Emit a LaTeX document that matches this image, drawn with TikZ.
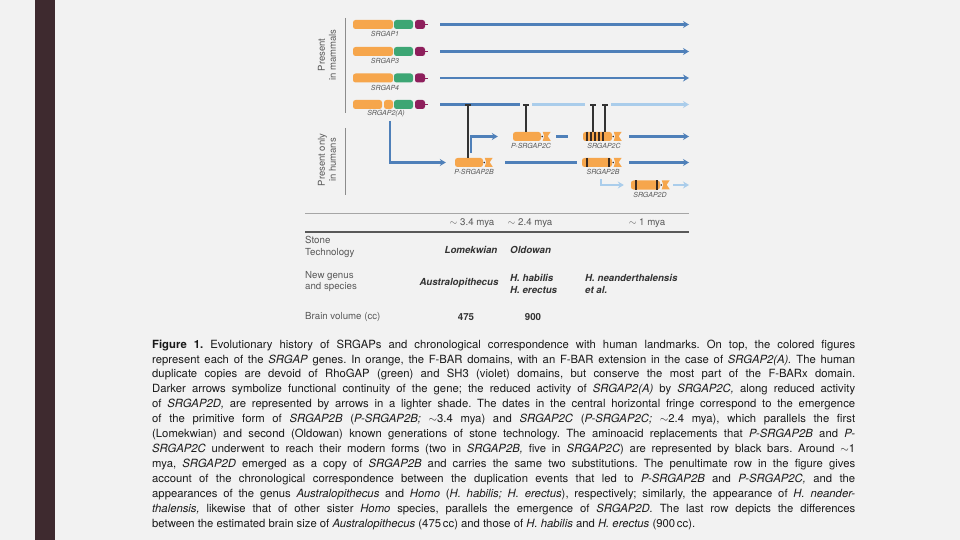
\documentclass[tikz,border=0pt]{standalone}
\usepackage{fontspec}
\setmainfont{TeX Gyre Heros}
\usetikzlibrary{arrows.meta}

\definecolor{bgc}{HTML}{F2F2F2}
\definecolor{barc}{HTML}{3E2A2F}
\definecolor{fbarc}{HTML}{F6A64C}
\definecolor{gapc}{HTML}{3DA674}
\definecolor{shc}{HTML}{8E1F5C}
\definecolor{dkc}{HTML}{4F80B9}
\definecolor{ltc}{HTML}{AACDEB}
\definecolor{mutc}{HTML}{3A2A20}

\begin{document}
\begin{tikzpicture}[x=1pt, y=-1pt,
	fb/.style = {rectangle, rounded corners=2.5pt, fill=fbarc, inner sep=0, minimum height=9},
	rg/.style = {rectangle, rounded corners=2.5pt, fill=gapc, inner sep=0, minimum height=9, minimum width=19},
	sh/.style = {rectangle, rounded corners=2.5pt, fill=shc, inner sep=0, minimum height=9, minimum width=10},
	lab/.style = {font=\fontsize{7}{8}\selectfont\itshape, text=black!65, inner sep=0},
	dk/.style = {draw=dkc, line width=2.2pt},
	lt/.style = {draw=ltc, line width=2.2pt},
	arw/.style = {-{Stealth[length=6pt, width=7pt, inset=2pt]}},
	inh/.style = {draw=black!80, line width=1.3pt, -{Bar[width=6pt]}},
	mut/.style = {draw=mutc, line width=1.4pt},
	side/.style = {font=\fontsize{9.5}{11}\selectfont, text=black!65, align=center, inner sep=0, rotate=90},
	sep/.style = {draw=black!45, line width=0.8pt},
	tb/.style = {font=\fontsize{9.7}{11.5}\selectfont, text=black!65, inner sep=0, align=left},
	tbb/.style = {tb, font=\fontsize{9.7}{11.5}\selectfont\bfseries\itshape, text=black!80},
	tbn/.style = {tb, font=\fontsize{9.7}{11.5}\selectfont\bfseries, text=black!80}
	]
	
	\fill[bgc] (0,0) rectangle (960,540);
	\fill[barc] (35,0) rectangle (55,540);
	\useasboundingbox (0,0) rectangle (960,540);
	
	% ===== ===== ===== ===== =====
	
	% Nodes
	\node[fb, minimum width=40]	(1F)	at	(373, 24.5)	{};
	\node[rg]	(1G)	at	(403.5, 24.5)	{};
	\node[sh]	(1S)	at	(420, 24.5)	{};
	\node[lab]	(1L)	at	(385, 34)	{SRGAP1};
	
	\node[fb, minimum width=40]	(2F)	at	(373, 51.5)	{};
	\node[rg]	(2G)	at	(403.5, 51.5)	{};
	\node[sh]	(2S)	at	(420, 51.5)	{};
	\node[lab]	(2L)	at	(385, 61)	{SRGAP3};
	
	\node[fb, minimum width=40]	(3F)	at	(373, 78)	{};
	\node[rg]	(3G)	at	(403.5, 78)	{};
	\node[sh]	(3S)	at	(420, 78)	{};
	\node[lab]	(3L)	at	(385, 87.5)	{SRGAP4};
	
	\node[fb, minimum width=29]	(4F)	at	(367.5, 104.5)	{};
	\node[fb, minimum width=9]	(4X)	at	(388.5, 104.5)	{};
	\node[rg]	(4G)	at	(403.5, 104.5)	{};
	\node[sh]	(4S)	at	(420, 104.5)	{};
	\node[lab]	(4L)	at	(386, 114)	{SRGAP2(A)};
	
	\coordinate	(1s)	at	(440, 24.5);
	\coordinate	(1e)	at	(689, 24.5);
	\coordinate	(2s)	at	(440, 51.5);
	\coordinate	(2e)	at	(689, 51.5);
	\coordinate	(3s)	at	(440, 78);
	\coordinate	(3e)	at	(689, 78);
	\coordinate	(4s)	at	(440, 104.5);
	\coordinate	(4e)	at	(689, 104.5);
	
	\coordinate	(t0)	at	(468, 104.5);
	\coordinate	(t1)	at	(526, 104.5);
	\coordinate	(t2)	at	(593, 104.5);
	\coordinate	(t3)	at	(605, 104.5);
	
	% Lines
	\draw[shc, line width=0.8pt]	(1S.east)	--	++(3,0);
	\draw[shc, line width=0.8pt]	(2S.east)	--	++(3,0);
	\draw[shc, line width=0.8pt]	(3S.east)	--	++(3,0);
	\draw[shc, line width=0.8pt]	(4S.east)	--	++(3,0);
	
	\draw[dk, arw]	(1s)	--	(1e);
	\draw[dk, arw]	(2s)	--	(2e);
	\draw[dk, arw]	(3s)	--	(3e);
	\draw[dk, shorten >=6pt]	(4s)	--	(t1);
	\draw[lt, shorten <=6pt, shorten >=8pt]	(t1)	--	(t2);
	\draw[lt, arw, shorten <=6pt]	(t3)	--	(4e);
	
	
	
	
	
	% ===== ===== ===== ===== =====
	
	% Nodes
	\node[fb, minimum width=28]	(pB)	at	(469, 162.5)	{};
	\node[lab]	(pBl)	at	(474, 172)	{P-SRGAP2B};
	
	\node[fb, minimum width=28]	(pC)	at	(527, 136.5)	{};
	\node[lab]	(pCl)	at	(531, 146)	{P-SRGAP2C};
	
	\node[fb, minimum width=29]	(C2)	at	(597.5, 136.5)	{};
	\node[lab]	(C2l)	at	(604, 146)	{SRGAP2C};
	
	\node[fb, minimum width=30]	(B2)	at	(597, 162.5)	{};
	\node[lab]	(B2l)	at	(603, 172)	{SRGAP2B};
	
	\node[fb, minimum width=29]	(D2)	at	(645.5, 185)	{};
	\node[lab]	(D2l)	at	(650, 195)	{SRGAP2D};
	
	\coordinate	(2A)	at	(390, 121);
	\coordinate	(5e)	at	(689, 136.5);
	\coordinate	(6e)	at	(689, 162.5);
	\coordinate	(7e)	at	(689, 185);
	
	% Gene tails
	\fill[fbarc] (pB.north east) ++(1.5,0) -- ++(8,0) -- ++(-3,4.5) -- ++(3,4.5) -- ++(-8,0) -- ++(1.5,-4.5) -- cycle;
	\fill[fbarc] (pC.north east) ++(1.5,0) -- ++(8,0) -- ++(-3,4.5) -- ++(3,4.5) -- ++(-8,0) -- ++(1.5,-4.5) -- cycle;
	\fill[fbarc] (C2.north east) ++(1.5,0) -- ++(8,0) -- ++(-3,4.5) -- ++(3,4.5) -- ++(-8,0) -- ++(1.5,-4.5) -- cycle;
	\fill[fbarc] (B2.north east) ++(1.5,0) -- ++(8,0) -- ++(-3,4.5) -- ++(3,4.5) -- ++(-8,0) -- ++(1.5,-4.5) -- cycle;
	\fill[fbarc] (D2.north east) ++(1.5,0) -- ++(8,0) -- ++(-3,4.5) -- ++(3,4.5) -- ++(-8,0) -- ++(1.5,-4.5) -- cycle;
	\fill[mutc] (pB.east) ++(1,0) circle (0.8);
	\fill[mutc] (pC.east) ++(1,0) circle (0.8);
	\fill[mutc] (C2.east) ++(1,0) circle (0.8);
	\fill[mutc] (B2.east) ++(1,0) circle (0.8);
	\fill[mutc] (D2.east) ++(1,0) circle (0.8);
	
	% Black bars
	\foreach \x in {4,8,12,16,20}
		\draw[mut] ([xshift=\x pt]C2.north west) -- ([xshift=\x pt]C2.south west);
	\foreach \x in {5,27}
		\draw[mut] ([xshift=\x pt]B2.north west) -- ([xshift=\x pt]B2.south west);
	\foreach \x in {5,26}
		\draw[mut] ([xshift=\x pt]D2.north west) -- ([xshift=\x pt]D2.south west);
	
	% Lines
	\draw[dk, arw, shorten >=9pt]	(2A)	|-	(pB.west);
	\draw[inh]	(pB.north -| t0)	--	(t0);
	\draw[dk, arw, shorten <=5pt, shorten >=15pt]	([xshift=2pt]pB.north)	|-	(pC.west);
	\draw[inh]	(pC.north -| t1)	--	(t1);
	\draw[inh]	(C2.north -| t2)	--	(t2);
	\draw[inh]	(C2.north -| t3)	--	(t3);
	\draw[dk, shorten <=15pt, shorten >=15pt]	(pC.east)	--	(C2.west);
	\draw[dk, arw, shorten <=17pt]	(C2.east)	--	(5e);
	\draw[dk, shorten <=22pt, shorten >=5pt]	(pB.east)	--	(B2.west);
	\draw[dk, arw, shorten <=17pt]	(B2.east)	--	(6e);
	\draw[lt, arw, shorten <=12pt, shorten >=7pt]	([xshift=4pt]B2.south)	|-	(D2.west);
	\draw[lt, arw, shorten <=13pt]	(D2.east)	--	(7e);
	
	
	
	
	
	% ===== ===== ===== ===== =====
	
	% Nodes
	\node[side]	(mam)	at	(327, 55)	{Present\\in mammals};
	\node[side]	(hum)	at	(327, 160)	{Present only\\in humans};
	
	% Lines
	\draw[sep] (345, 18) -- (345, 113);
	\draw[sep] (345, 128) -- (345, 195);
	
	
	
	
	
	% ===== ===== ===== ===== =====
	
	% Nodes
	\node[tb]	(d1)	at	(472, 223)	{$\sim$ 3.4 mya};
	\node[tb]	(d2)	at	(530, 223)	{$\sim$ 2.4 mya};
	\node[tb]	(d3)	at	(647, 223)	{$\sim$ 1 mya};
	
	\node[tb, anchor=west]	(st)	at	(305, 247)	{Stone\\Technology};
	\node[tbb]	(lo)	at	(471, 250)	{Lomekwian};
	\node[tbb, anchor=west]	(ol)	at	(510, 250)	{Oldowan};
	
	\node[tb, anchor=west]	(ng)	at	(305, 281.5)	{New genus\\and species};
	\node[tbb]	(au)	at	(459, 283)	{Australopithecus};
	\node[tbb, anchor=west]	(hh)	at	(510, 284)	{H. habilis\\H. erectus};
	\node[tbb, anchor=west]	(hn)	at	(585, 284)	{H. neanderthalensis\\et al.};
	
	\node[tb, anchor=west]	(bv)	at	(305, 317)	{Brain volume (cc)};
	\node[tbn]	(b1)	at	(466, 317)	{475};
	\node[tbn]	(b2)	at	(533, 317)	{900};
	
	% Lines
	\draw[draw=black!35, line width=0.8pt] (305, 213) -- (689, 213);
	\draw[draw=black!65, line width=1.4pt] (305, 232) -- (689, 232);
	
	
	
	
	
	% ===== ===== ===== ===== =====
	
	\node[anchor=north west, text width=703pt, align=justify, inner sep=0, text=black!90,
		font=\fontsize{11.3}{14.92}\selectfont]	(cap)	at	(152, 339.5)	{%
		\frenchspacing\hyphenpenalty=10000\tolerance=9999\noindent
		\textbf{Figure 1.} Evolutionary history of SRGAPs and chronological correspondence with human landmarks. On top, the colored figures\linebreak
		represent each of the \textit{SRGAP} genes. In orange, the F-BAR domains, with an F-BAR extension in the case of \textit{SRGAP2(A).} The human\linebreak
		duplicate copies are devoid of RhoGAP (green) and SH3 (violet) domains, but conserve the most part of the F-BARx domain.\linebreak
		Darker arrows symbolize functional continuity of the gene; the reduced activity of \textit{SRGAP2(A)} by \textit{SRGAP2C,} along reduced activity\linebreak
		of \textit{SRGAP2D,} are represented by arrows in a lighter shade. The dates in the central horizontal fringe correspond to the emergence\linebreak
		of the primitive form of \textit{SRGAP2B} (\textit{P-SRGAP2B;} $\sim$3.4 mya) and \textit{SRGAP2C} (\textit{P-SRGAP2C;} $\sim$2.4 mya), which parallels the first\linebreak
		(Lomekwian) and second (Oldowan) known generations of stone technology. The aminoacid replacements that \textit{P-SRGAP2B} and \textit{P-}\linebreak
		\textit{SRGAP2C} underwent to reach their modern forms (two in \textit{SRGAP2B,} five in \textit{SRGAP2C}) are represented by black bars. Around $\sim$1\linebreak
		mya, \textit{SRGAP2D} emerged as a copy of \textit{SRGAP2B} and carries the same two substitutions. The penultimate row in the figure gives\linebreak
		account of the chronological correspondence between the duplication events that led to \textit{P-SRGAP2B} and \textit{P-SRGAP2C,} and the\linebreak
		appearances of the genus \textit{Australopithecus} and \textit{Homo} (\textit{H. habilis; H. erectus}), respectively; similarly, the appearance of \textit{H. neander-}\linebreak
		\textit{thalensis,} likewise that of other sister \textit{Homo} species, parallels the emergence of \textit{SRGAP2D.} The last row depicts the differences\linebreak
		between the estimated brain size of \textit{Australopithecus} (475\,cc) and those of \textit{H. habilis} and \textit{H. erectus} (900\,cc).};
	
\end{tikzpicture}
\end{document}
